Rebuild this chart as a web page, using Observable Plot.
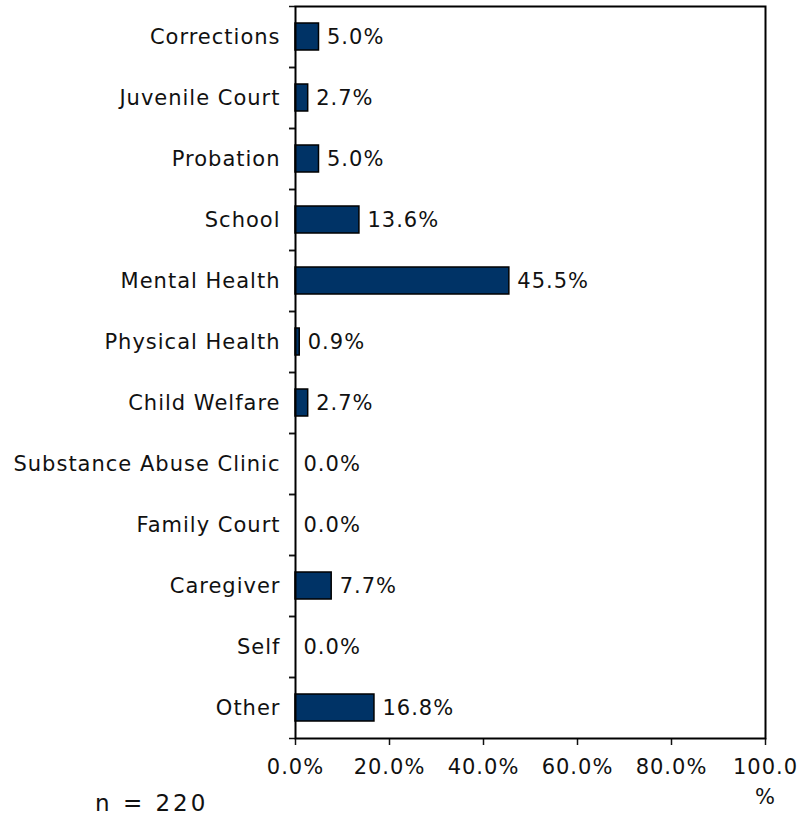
<!DOCTYPE html>
<html>
<head>
<meta charset="utf-8">
<script src="https://cdn.jsdelivr.net/npm/d3@7"></script>
<script src="https://cdn.jsdelivr.net/npm/@observablehq/plot@0.6"></script>
<style>
  html, body { margin: 0; padding: 0; background: #fff; }
  #wrap { position: relative; width: 800px; height: 816px; }
  #n { position: absolute; left: 95px; top: 790px; font-family: "DejaVu Sans", Verdana, sans-serif; font-size: 23px; letter-spacing: 3px; color: #111; }
</style>
</head>
<body>
<div id="wrap">
  <div id="chart"></div>
  <div id="n">n = 220</div>
</div>
<script>
const categories = ["Corrections", "Juvenile Court", "Probation", "School", "Mental Health", "Physical Health", "Child Welfare", "Substance Abuse Clinic", "Family Court", "Caregiver", "Self", "Other"];
const values = [5.0, 2.7, 5.0, 13.6, 45.5, 0.9, 2.7, 0.0, 0.0, 7.7, 0.0, 16.8];
const xTicks = [0, 20, 40, 60, 80, 100];
const xTickLabels = ["0.0%", "20.0%", "40.0%", "60.0%", "80.0%", "100.0\n%"];

const data = categories.map((c, i) => ({category: c, value: values[i]}));
const step = (816 - 6 - 78) / categories.length;

const chart = Plot.plot({
  width: 800,
  height: 816,
  marginLeft: 295,
  marginRight: 35,
  marginTop: 6,
  marginBottom: 78,
  style: {fontFamily: "DejaVu Sans, Verdana, sans-serif", fontSize: "21px", letterSpacing: "1px", color: "#111", background: "#fff"},
  x: {domain: [0, 100]},
  y: {domain: categories, padding: 0},
  marks: [
    Plot.barX(data, {x: "value", y: "category", fill: "#003366", stroke: "#000", strokeWidth: 1.5, insetTop: 17, insetBottom: 17}),
    Plot.text(data, {x: "value", y: "category", text: d => d.value.toFixed(1) + "%", textAnchor: "start", dx: 8, fill: "#111"}),
    Plot.axisY({tickSize: 0, tickPadding: 15, label: null}),
    Plot.axisY({tickSize: 6, tickFormat: () => "", dy: -step / 2, label: null, strokeWidth: 1.5}),
    Plot.axisY({tickSize: 6, tickFormat: () => "", dy: step / 2, label: null, strokeWidth: 1.5}),
    Plot.axisX({ticks: xTicks, tickFormat: (d) => xTickLabels[xTicks.indexOf(d)], tickSize: 7, tickPadding: 8, label: null, strokeWidth: 1.5, lineHeight: 1.4}),
    Plot.frame({stroke: "#000", strokeWidth: 2})
  ]
});
document.getElementById("chart").appendChild(chart);
</script>
</body>
</html>
